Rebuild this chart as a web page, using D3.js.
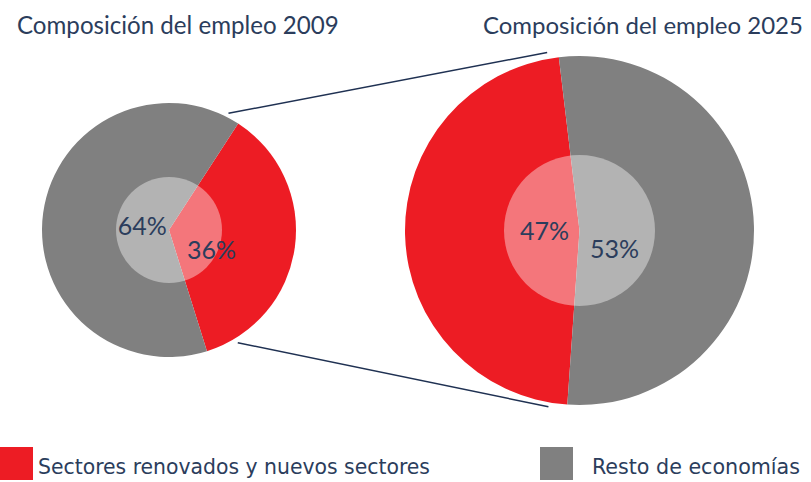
<!DOCTYPE html>
<html>
<head>
<meta charset="utf-8">
<script src="https://cdn.jsdelivr.net/npm/d3@7"></script>
<style>
  html, body { margin: 0; padding: 0; background: #fff; }
  svg { display: block; }
</style>
</head>
<body>
<svg id="chart" width="811" height="482"></svg>
<script>
// ---- data ----
const categories = ["Sectores renovados y nuevos sectores", "Resto de economías"];
const years = ["2009", "2025"];
const titles = ["Composición del empleo 2009", "Composición del empleo 2025"];
const values2009 = [36, 64];
const values2025 = [47, 53];
const colors = ["#ED1C24", "#808080"];

const textColor = "#2b3d5c";
const lineColor = "#1f3152";

const svg = d3.select("#chart");
const deg = Math.PI / 180;

// fit a text to a target width by adjusting its font size
function fitText(sel, baseSize, targetW) {
  sel.attr("font-size", baseSize);
  const w = sel.node().getComputedTextLength();
  if (w > 0) sel.attr("font-size", baseSize * targetW / w);
  return sel;
}

// pie layout settings
const pies = [
  { values: values2009, cx: 169, cy: 230, r: 127, rInner: 53, start: 33, labelR: [43, 27], labelDy: [14, 0], titleX: 17, titleW: 322 },
  { values: values2025, cx: 579.5, cy: 230.5, r: 174.5, rInner: 75.5, start: 184, labelR: [35, 35], labelDy: [0, 20], titleX: 483, titleW: 320 }
];

pies.forEach((p, i) => {
  const pie = d3.pie().sort(null).startAngle(p.start * deg).endAngle((p.start + 360) * deg);
  const arcs = pie(p.values);
  const arc = d3.arc().innerRadius(0).outerRadius(p.r);
  const g = svg.append("g").attr("transform", `translate(${p.cx},${p.cy})`);
  g.selectAll("path.slice").data(arcs).join("path")
    .attr("class", "slice")
    .attr("d", arc)
    .attr("fill", (d, j) => colors[j]);
  g.append("circle").attr("r", p.rInner).attr("fill", "#fff").attr("fill-opacity", 0.4);
  g.selectAll("text.lbl").data(arcs).join("text")
    .attr("class", "lbl")
    .attr("x", (d, j) => d3.arc().innerRadius(0).outerRadius(2 * p.labelR[j]).centroid(d)[0])
    .attr("y", (d, j) => d3.arc().innerRadius(0).outerRadius(2 * p.labelR[j]).centroid(d)[1] + p.labelDy[j])
    .attr("dy", "0.35em")
    .attr("text-anchor", "middle")
    .attr("font-family", "Lato, 'Open Sans', sans-serif")
    .attr("font-size", 25)
    .attr("fill", textColor)
    .text(d => d.data + "%");
  p.arcs = arcs;

  const t = svg.append("text")
    .attr("x", p.titleX).attr("y", 34)
    .attr("font-family", "Lato, 'Open Sans', sans-serif")
    .attr("fill", textColor)
    .text(titles[i]);
  fitText(t, 25, p.titleW);
});

// connector lines (from around the red slice of 2009 to the red slice of 2025)
function pt(p, angDeg, rad) {
  const [x, y] = d3.pointRadial(angDeg * deg, rad);
  return [p.cx + x, p.cy + y];
}
const a0 = pies[0].arcs[0], a1 = pies[1].arcs[0];
const topLine = [pt(pies[0], a0.startAngle / deg - 6, pies[0].r + 4), pt(pies[1], a1.endAngle / deg - 3.5, pies[1].r + 6.5)];
const botLine = [pt(pies[0], a0.endAngle / deg - 14, pies[0].r + 5), pt(pies[1], a1.startAngle / deg + 6, pies[1].r + 4.5)];
[topLine, botLine].forEach(l => {
  svg.append("line")
    .attr("x1", l[0][0]).attr("y1", l[0][1])
    .attr("x2", l[1][0]).attr("y2", l[1][1])
    .attr("stroke", lineColor).attr("stroke-width", 1.5);
});

// legend
const legendItems = [
  { x: 0, tx: 38, tw: 392 },
  { x: 540, tx: 592, tw: 208 }
];
legendItems.forEach((l, i) => {
  svg.append("rect").attr("x", l.x).attr("y", 447).attr("width", 33).attr("height", 33).attr("fill", colors[i]);
  svg.append("text")
    .attr("x", l.tx).attr("y", 474)
    .attr("font-family", "'DejaVu Sans Condensed', 'Liberation Sans Narrow', sans-serif")
    .attr("font-size", 22)
    .attr("fill", textColor)
    .attr("textLength", l.tw)
    .attr("lengthAdjust", "spacingAndGlyphs")
    .text(categories[i]);
});
</script>
</body>
</html>
